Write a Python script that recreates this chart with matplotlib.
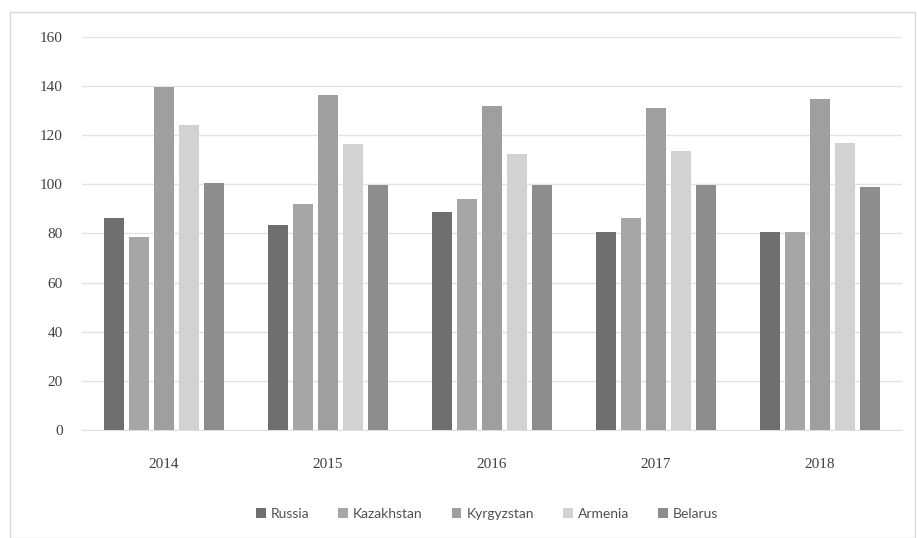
import numpy as np
import matplotlib
matplotlib.use("Agg")
import matplotlib.pyplot as plt
from matplotlib.patches import Rectangle

years = ["2014", "2015", "2016", "2017", "2018"]
countries = ["Russia", "Kazakhstan", "Kyrgyzstan", "Armenia", "Belarus"]

russia = [86.1, 83.3, 88.8, 80.4, 80.4]
kazakhstan = [78.4, 92.1, 94.1, 86.4, 80.4]
kyrgyzstan = [139.7, 136.3, 131.8, 131.0, 134.8]
armenia = [124.0, 116.2, 112.4, 113.6, 116.9]
belarus = [100.4, 99.7, 99.8, 99.8, 99.0]

series = [russia, kazakhstan, kyrgyzstan, armenia, belarus]
colors = ["#6f6f6f", "#a6a6a6", "#9f9f9f", "#d2d2d2", "#8d8d8d"]

fig = plt.figure(figsize=(9.17, 5.38), dpi=100)
fig.patch.set_facecolor("white")

# light frame around the chart area
fig.patches.append(Rectangle((10 / 917, 0), 905 / 917, 1 - 12 / 538,
                             transform=fig.transFigure, fill=False,
                             edgecolor="#d9d9d9", linewidth=1.0))

ax = fig.add_axes([82 / 917, 1 - 430 / 538, 820 / 917, (430 - 36.7) / 538])

x = np.arange(len(years))
slot = 0.152
width = 0.119
for i, (vals, name, col) in enumerate(zip(series, countries, colors)):
    ax.bar(x + (i - 2) * slot, vals, width=width, color=col, label=name, zorder=3)

ax.set_xlim(-0.5, len(years) - 0.5)
ax.set_ylim(0, 160)
ax.set_yticks(range(0, 161, 20))
ax.set_xticks(x)
ax.set_xticklabels(years)
ax.grid(axis="y", color="#e3e3e3", linewidth=1.0, zorder=0)
for side in ["top", "right", "left"]:
    ax.spines[side].set_visible(False)
ax.spines["bottom"].set_color("#e0e0e0")
ax.tick_params(length=0, labelsize=11, labelcolor="#404040")
ax.tick_params(axis="y", pad=14)
ax.tick_params(axis="x", pad=20)
for lab in ax.get_xticklabels() + ax.get_yticklabels():
    lab.set_family("Liberation Serif")

leg = fig.legend(loc="center", bbox_to_anchor=(487 / 917, 1 - 514 / 538), ncol=5,
                 frameon=False, handlelength=0.7, handleheight=0.7,
                 handletextpad=0.35, columnspacing=2.1, prop={"family": "Lato", "size": 10})
for t in leg.get_texts():
    t.set_color("#505050")

fig.savefig("out.png", dpi=100)
